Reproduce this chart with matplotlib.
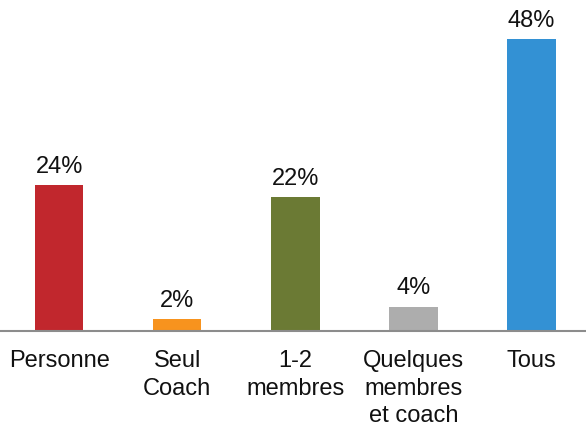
import matplotlib.pyplot as plt

categories = ['Personne', 'Seul\nCoach', '1-2\nmembres', 'Quelques\nmembres\net coach', 'Tous']
values = [24, 2, 22, 4, 48]
colors = ['#C1272D', '#F7931E', '#6B7A34', '#ADADAD', '#3391D4']

plt.rcParams['font.family'] = ['Liberation Sans', 'DejaVu Sans']

fig = plt.figure(figsize=(5.86, 4.26), dpi=100)
ax = fig.add_axes([0, 0.223, 1, 0.777])

x = range(len(categories))
bars = ax.bar(x, values, width=0.41, color=colors)

for b, v in zip(bars, values):
    ax.text(b.get_x() + b.get_width() / 2, v + 1.2, f'{v}%',
            ha='center', va='bottom', fontsize=17, color='#111111')

ax.set_xlim(-0.5, 4.46)
ax.set_ylim(0, 54.4)
ax.set_xticks(list(x))
ax.set_xticklabels(categories, fontsize=17, color='#111111', va='top')
for lab in ax.get_xticklabels():
    lab.set_linespacing(1.32)
ax.tick_params(axis='x', length=0, pad=14)
ax.set_yticks([])
for s in ['top', 'left', 'right']:
    ax.spines[s].set_visible(False)
ax.spines['bottom'].set_color('#8C8C8C')
ax.spines['bottom'].set_linewidth(1.5)

fig.savefig('out.png', dpi=100)
